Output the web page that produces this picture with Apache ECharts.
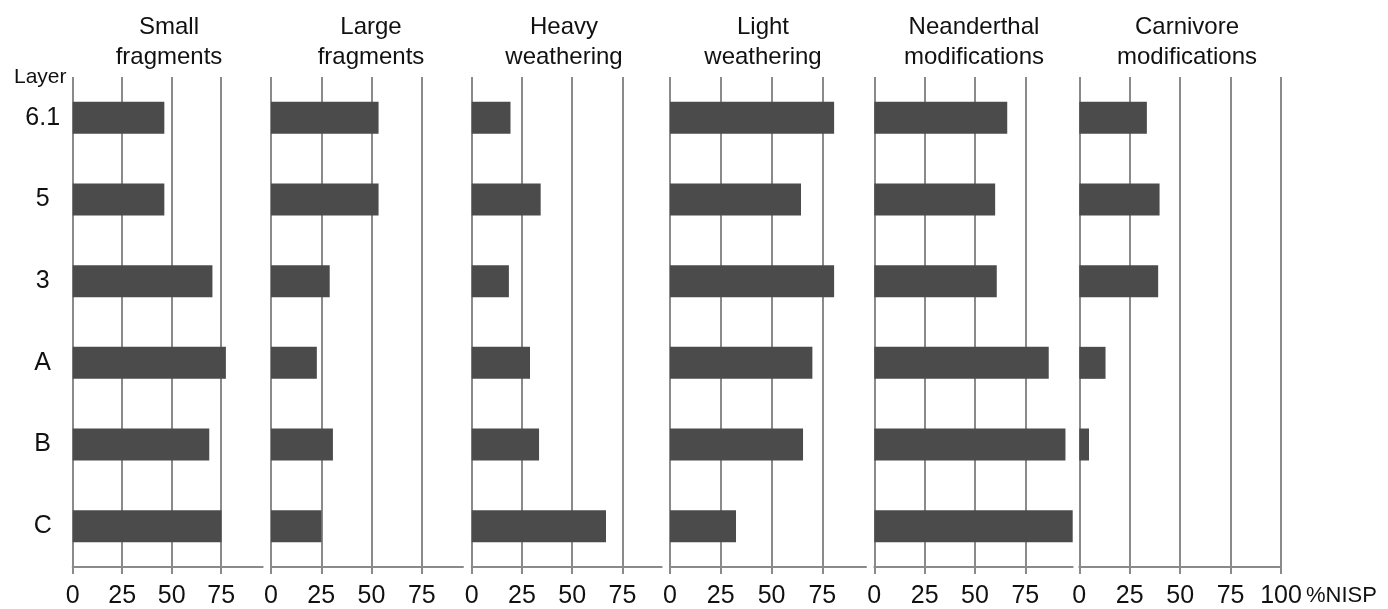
<!DOCTYPE html>
<html>
<head>
<meta charset="utf-8">
<script src="https://cdn.jsdelivr.net/npm/echarts@6/dist/echarts.min.js"></script>
<style>
  html, body { margin: 0; padding: 0; background: #fff; }
  #main { width: 1388px; height: 609px; }
</style>
</head>
<body>
<div id="main"></div>
<script>
// layers (top to bottom)
var layers = ['6.1', '5', '3', 'A', 'B', 'C'];

// panel titles
var panelTitles = ['Small\nfragments', 'Large\nfragments', 'Heavy\nweathering',
                   'Light\nweathering', 'Neanderthal\nmodifications', 'Carnivore\nmodifications'];

// %NISP per layer, one array per panel
var smallFragments   = [46.3, 46.3, 70.6, 77.4, 69.0, 75.2];
var largeFragments   = [53.5, 53.5, 29.2, 22.8, 30.8, 25.1];
var heavyWeathering  = [19.3, 34.3, 18.5, 29.0, 33.5, 66.8];
var lightWeathering  = [80.8, 64.5, 80.8, 70.1, 65.5, 32.5];
var neanderthalMods  = [66.0, 60.0, 60.8, 86.6, 94.9, 98.5];
var carnivoreMods    = [33.5, 39.8, 39.1, 13.0, 4.8, 0];

// tick labels
var ticks = [0, 25, 50, 75];
var ticksLast = [0, 25, 50, 75, 100];

var panelData = [smallFragments, largeFragments, heavyWeathering,
                 lightWeathering, neanderthalMods, carnivoreMods];

// layout of each small panel: left edge (value 0), width in px, axis max, title centre
var panels = [
    { left: 72.7,   width: 190,   max: 96,   cx: 164 },
    { left: 271,    width: 192,   max: 95.5, cx: 366 },
    { left: 471.7,  width: 190,   max: 94.5, cx: 559 },
    { left: 670,    width: 196,   max: 96.5, cx: 758 },
    { left: 874.3,  width: 198.4, max: 98.5, cx: 969 },
    { left: 1079.3, width: 201.7, max: 100,  cx: 1182 }
];

var FONT = '"Liberation Sans", Arial, sans-serif';
var LINE = '#8a8a8a';

var chart = echarts.init(document.getElementById('main'));

var grids = [], xAxes = [], yAxes = [], series = [], titles = [];

panels.forEach(function (p, i) {
    var last = (i === panels.length - 1);
    var tv = last ? ticksLast : ticks;

    grids.push({ left: p.left, width: p.width, top: 77, bottom: 39, containLabel: false });

    xAxes.push({
        type: 'value', gridIndex: i, min: 0, max: p.max, interval: 25,
        axisLine: { show: true, lineStyle: { color: LINE, width: 2 } },
        axisTick: { show: true, length: 7, customValues: tv, lineStyle: { color: LINE, width: 2 } },
        axisLabel: {
            customValues: tv, margin: 17, fontSize: 25, color: '#111', fontFamily: FONT
        },
        splitLine: { show: true, lineStyle: { color: LINE, width: 2 } }
    });

    yAxes.push({
        type: 'category', gridIndex: i, data: layers, inverse: true,
        axisLine: { show: false },
        axisTick: { show: false },
        axisLabel: {
            show: i === 0, align: 'center', margin: 30,
            fontSize: 25, color: '#111', fontFamily: FONT
        }
    });

    series.push({
        type: 'bar', xAxisIndex: i, yAxisIndex: i,
        data: panelData[i],
        barWidth: 32,
        itemStyle: { color: '#4b4b4b' },
        silent: true
    });

    titles.push({
        text: panelTitles[i], left: p.cx, top: 7, textAlign: 'center',
        textStyle: { fontSize: 24, fontWeight: 'normal', color: '#111', lineHeight: 30, fontFamily: FONT }
    });
});

titles.push({
    text: 'Layer', left: 9, top: 62,
    textStyle: { fontSize: 21, fontWeight: 'normal', color: '#111', fontFamily: FONT }
});

var option = {
    animation: false,
    backgroundColor: '#fff',
    title: titles,
    grid: grids,
    xAxis: xAxes,
    yAxis: yAxes,
    series: series,
    graphic: [{
        type: 'text', left: 1306, top: 585,
        style: { text: '%NISP', fontSize: 22, fill: '#111', fontFamily: FONT }
    }]
};

chart.setOption(option);
</script>
</body>
</html>
